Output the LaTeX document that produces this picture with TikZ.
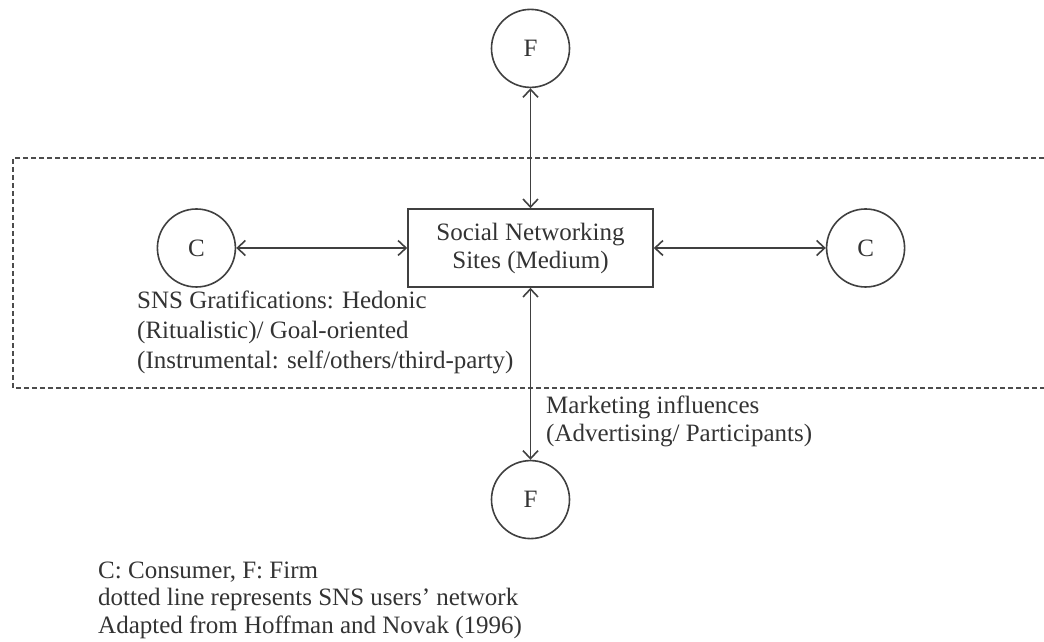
\documentclass[tikz,border=0pt]{standalone}
\usepackage{fontspec}
\setmainfont{Liberation Serif}
\usetikzlibrary{arrows.meta,positioning}

\begin{document}
\begin{tikzpicture}[node distance=172pt,
 actor/.style={draw=black!75,circle,minimum size=78pt,inner sep=0pt,line width=1.6pt},
 medium/.style={draw=black!75,minimum width=245pt,minimum height=78pt,align=center,line width=1.6pt},
 note/.style={anchor=north west,align=left,inner sep=0pt},
 every node/.style={text=black!80,font=\fontsize{25}{28}\selectfont},
 link/.style={<->,draw=black!75,line width=1.6pt},
 >={Straight Barb[length=8pt,width=15pt]}]
\useasboundingbox (0,0) rectangle (1044pt,642pt);
% users' network
\coordinate (netnw) at (13pt,484pt);
\coordinate (netsw) at (13pt,254pt);
\draw[black!70,line width=1.6pt,dash pattern=on 5pt off 3pt]
 (1044pt,484pt) -- (netnw) -- (netsw) -- (1044pt,254pt);
\node[medium] (sns) at (530.5pt,394pt) {Social Networking\\Sites (Medium)};
\node[actor,above=120pt of sns] (ftop) {F};
\node[actor,below=of sns] (fbot) {F};
\node[actor,left=171pt of sns] (cleft) {C};
\node[actor,right=of sns] (cright) {C};
\draw[link] (sns) -- (ftop);\draw[link] (sns) -- (fbot);
\draw[link] (sns) -- (cleft);\draw[link] (sns) -- (cright);
\node[note,font=\fontsize{25}{30}\selectfont] (grat) at (137pt,351pt) {SNS Gratifications: Hedonic\\
 (Ritualistic)/ Goal-oriented\\(Instrumental: self/others/third-party)};
\node[note] (mkt) at (546pt,246pt) {Marketing influences\\(Advertising/ Participants)};
\node[note,font=\fontsize{25}{27.5}\selectfont] (legend) at (98pt,80.5pt) {C: Consumer, F: Firm\\
 dotted line represents SNS users’ network\\Adapted from Hoffman and Novak (1996)};
\end{tikzpicture}
\end{document}
